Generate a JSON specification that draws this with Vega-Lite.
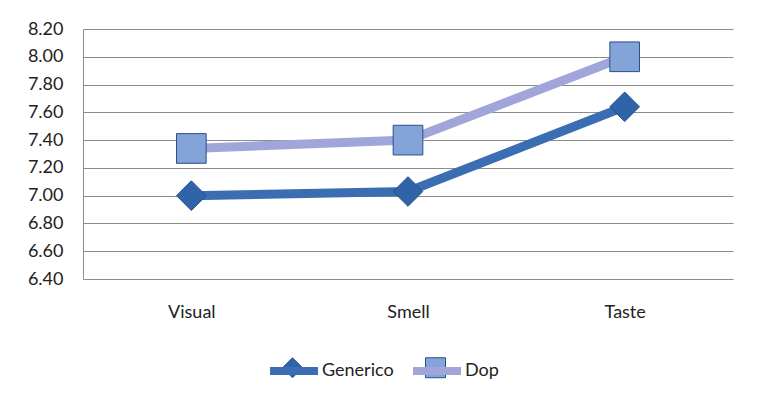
{
  "$schema": "https://vega.github.io/schema/vega-lite/v6.json",
  "autosize": {"type": "none"},
  "width": 650,
  "height": 250,
  "padding": {"left": 83, "top": 29, "right": 25, "bottom": 124},
  "background": "white",
  "config": {
    "view": {"stroke": null},
    "font": "Lato",
    "axis": {"labelFont": "Lato", "labelFontSize": 18, "labelColor": "#222222"},
    "legend": {"labelFont": "Lato", "labelFontSize": 18, "labelColor": "#222222", "padding": 0}
  },
  "data": {
    "values": [
      {"category": "Visual", "series": "Generico", "s": "Generico", "value": 7.00},
      {"category": "Smell", "series": "Generico", "s": "Generico", "value": 7.03},
      {"category": "Taste", "series": "Generico", "s": "Generico", "value": 7.64},
      {"category": "Visual", "series": "Dop", "s": "Dop", "value": 7.34},
      {"category": "Smell", "series": "Dop", "s": "Dop", "value": 7.40},
      {"category": "Taste", "series": "Dop", "s": "Dop", "value": 8.00}
    ]
  },
  "encoding": {
    "x": {
      "field": "category", "type": "nominal",
      "sort": ["Visual", "Smell", "Taste"],
      "scale": {"type": "point", "padding": 0.5},
      "axis": {"title": null, "labelAngle": 0, "ticks": false, "domain": false, "grid": false, "labelPadding": 24}
    },
    "y": {
      "field": "value", "type": "quantitative",
      "scale": {"domain": [6.4, 8.2], "nice": false, "zero": false},
      "axis": {
        "title": null, "values": [6.4, 6.6, 6.8, 7.0, 7.2, 7.4, 7.6, 7.8, 8.0, 8.2],
        "format": ".2f", "ticks": false, "domain": true, "domainColor": "#8c8c8c", "domainWidth": 1,
        "grid": true, "gridColor": "#8c8c8c", "gridWidth": 1, "labelPadding": 20
      }
    }
  },
  "layer": [
    {
      "mark": {"type": "line", "strokeWidth": 9, "strokeCap": "butt"},
      "encoding": {
        "stroke": {
          "field": "series", "type": "nominal",
          "scale": {"domain": ["Generico", "Dop"], "range": ["#3a6db2", "#a0a6da"]},
          "legend": {
            "title": null, "orient": "none", "legendX": 183, "legendY": 314,
            "direction": "horizontal", "symbolType": "stroke", "symbolSize": 2304,
            "symbolStrokeWidth": 8, "columnPadding": 3, "labelOffset": 0
          }
        }
      }
    },
    {
      "mark": {"type": "point", "filled": true, "opacity": 1, "strokeWidth": 1, "size": 880},
      "encoding": {
        "fill": {
          "field": "s", "type": "nominal",
          "scale": {"domain": ["Generico", "Dop"], "range": ["#2f64a8", "#84a3d8"]},
          "legend": {
            "title": null, "orient": "none", "legendX": 199, "legendY": 328,
            "direction": "horizontal", "symbolSize": 400, "labelExpr": "''",
            "columnPadding": 118, "labelOffset": 0, "symbolStrokeColor": "#2a4f86", "symbolStrokeWidth": 1
          }
        },
        "shape": {
          "field": "s", "type": "nominal",
          "scale": {"domain": ["Generico", "Dop"], "range": ["diamond", "square"]}
        },
        "stroke": {"value": "#2a4f86"}
      }
    }
  ],
  "resolve": {"scale": {"stroke": "independent"}, "legend": {"stroke": "independent"}}
}
